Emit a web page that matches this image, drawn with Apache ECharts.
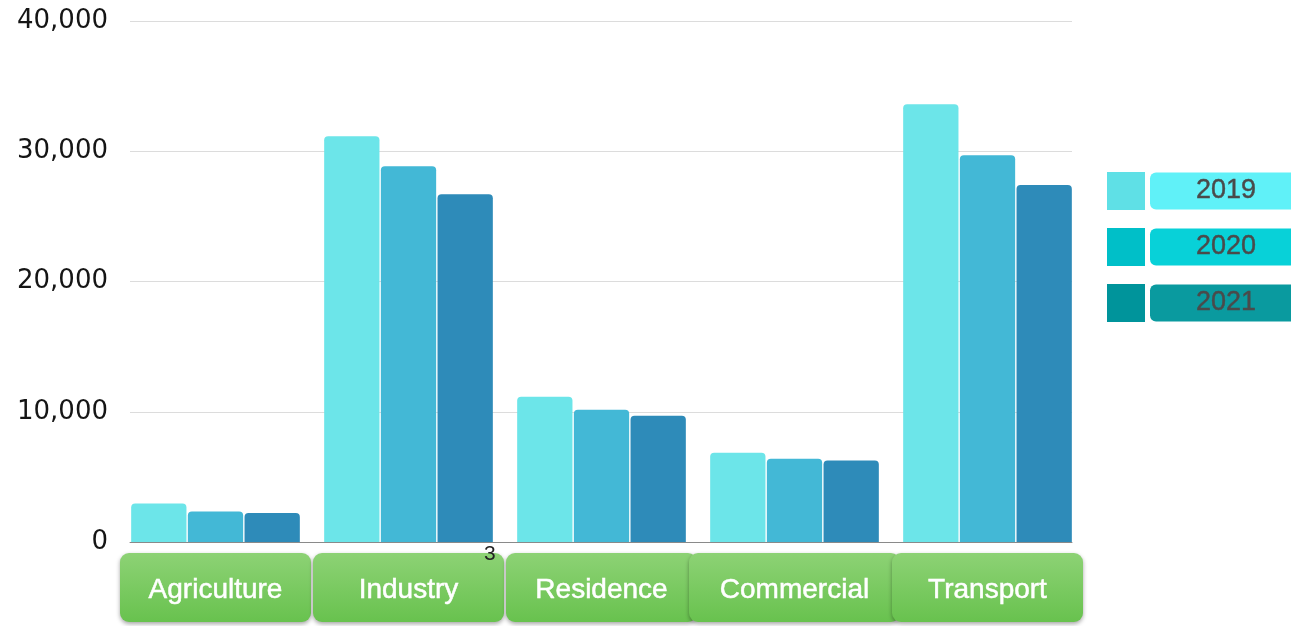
<!DOCTYPE html>
<html>
<head>
<meta charset="utf-8">
<title>Energy use by sector</title>
<script src="https://cdn.jsdelivr.net/npm/echarts@6/dist/echarts.min.js"></script>
<style>
  html, body { margin: 0; padding: 0; background: #fff; }
  #main { width: 1291px; height: 626px; }
</style>
</head>
<body>
<div id="main"></div>
<script>
// categories and values
var sectors = ['Agriculture', 'Industry', 'Residence', 'Commercial', 'Transport'];
var years = ['2019', '2020', '2021'];
var v2019 = [2950, 31150, 11150, 6850, 33600];
var v2020 = [2350, 28850, 10150, 6400, 29700];
var v2021 = [2230, 26700, 9700, 6250, 27400];
var yTicks = [0, 10000, 20000, 30000, 40000];

var barColors = ['#6ce5e9', '#43b8d6', '#2e8bb9'];
var legendIcon = ['#5fe0e6', '#00bfc8', '#00949b'];
var legendBox = ['#60f1f8', '#08d1d8', '#0a9a9f'];

var myChart = echarts.init(document.getElementById('main'));

var buttonBg = new echarts.graphic.LinearGradient(0, 0, 0, 1, [
  { offset: 0, color: '#8dd275' },
  { offset: 1, color: '#68c24e' }
]);

function catItem(name) {
  return {
    value: name,
    textStyle: { width: name == 'Commercial' ? 211 : 191 }
  };
}

var valueSeries = [v2019, v2020, v2021];
var series = [];
for (var i = 0; i < years.length; i++) {
  series.push({
    name: years[i],
    type: 'bar',
    xAxisIndex: 0,
    yAxisIndex: 0,
    barWidth: 55.3,
    barGap: '2.5%',
    data: valueSeries[i],
    itemStyle: {
      color: barColors[i],
      borderRadius: [4, 4, 0, 0]
    }
  });
}

// legend: square icon + coloured rounded box per year
var legendData = [];
var legendRich = {};
for (var j = 0; j < years.length; j++) {
  legendData.push({
    name: years[j],
    itemStyle: { color: legendIcon[j] }
  });
  legendRich['y' + years[j]] = {
    fontFamily: 'Liberation Sans',
    fontSize: 27,
    color: '#4a4a4a',
    textBorderColor: '#4a4a4a',
    textBorderWidth: 0.4,
    width: 152,
    align: 'center',
    lineHeight: 28,
    padding: [5, 0],
    borderRadius: 6,
    backgroundColor: legendBox[j]
  };
}

option = {
  animation: false,
  grid: [
    { left: 119, right: 207, top: 21, bottom: 84 },
    { left: 130, right: 219, top: 21, bottom: 84 }
  ],
  legend: {
    orient: 'vertical',
    left: 1107,
    top: 172,
    padding: 0,
    itemWidth: 38,
    itemHeight: 38,
    itemGap: 18,
    icon: 'rect',
    selectedMode: false,
    data: legendData,
    formatter: function (name) { return '{y' + name + '|' + name + '}'; },
    textStyle: { rich: legendRich }
  },
  xAxis: [{
    type: 'category',
    gridIndex: 0,
    data: sectors.map(catItem),
    axisLine: { show: false },
    axisTick: { show: false },
    axisLabel: {
      interval: 0,
      margin: 11,
      fontFamily: 'Liberation Sans',
      fontSize: 28,
      color: '#fff',
      textBorderColor: '#fff',
      textBorderWidth: 0.5,
      align: 'center',
      lineHeight: 30,
      padding: [22, 0, 17, 0],
      backgroundColor: buttonBg,
      borderRadius: 9,
      shadowColor: 'rgba(0,0,0,0.35)',
      shadowBlur: 4,
      shadowOffsetY: 2
    }
  }, {
    type: 'category',
    gridIndex: 1,
    data: sectors,
    axisLine: { lineStyle: { color: '#8a8a8a', width: 1 } },
    axisTick: { show: false },
    axisLabel: { show: false }
  }],
  yAxis: [{
    type: 'value',
    gridIndex: 0,
    min: yTicks[0],
    max: yTicks[yTicks.length - 1],
    interval: 10000,
    show: false
  }, {
    type: 'value',
    gridIndex: 1,
    min: yTicks[0],
    max: yTicks[yTicks.length - 1],
    interval: 10000,
    axisLine: { show: false },
    axisTick: { show: false },
    splitLine: { lineStyle: { color: '#dcdcdc' } },
    axisLabel: {
      margin: 22,
      fontFamily: 'DejaVu Sans',
      fontSize: 26,
      color: '#151515',
      padding: [4, 0, 0, 0],
      formatter: function (v) { return v.toLocaleString('en-US'); }
    }
  }],
  graphic: [{
    type: 'text',
    left: 484,
    top: 544,
    z: 100,
    style: { text: '3', fontSize: 21, fill: '#222', fontFamily: 'Liberation Sans' }
  }],
  series: series
};

myChart.setOption(option);
</script>
</body>
</html>
